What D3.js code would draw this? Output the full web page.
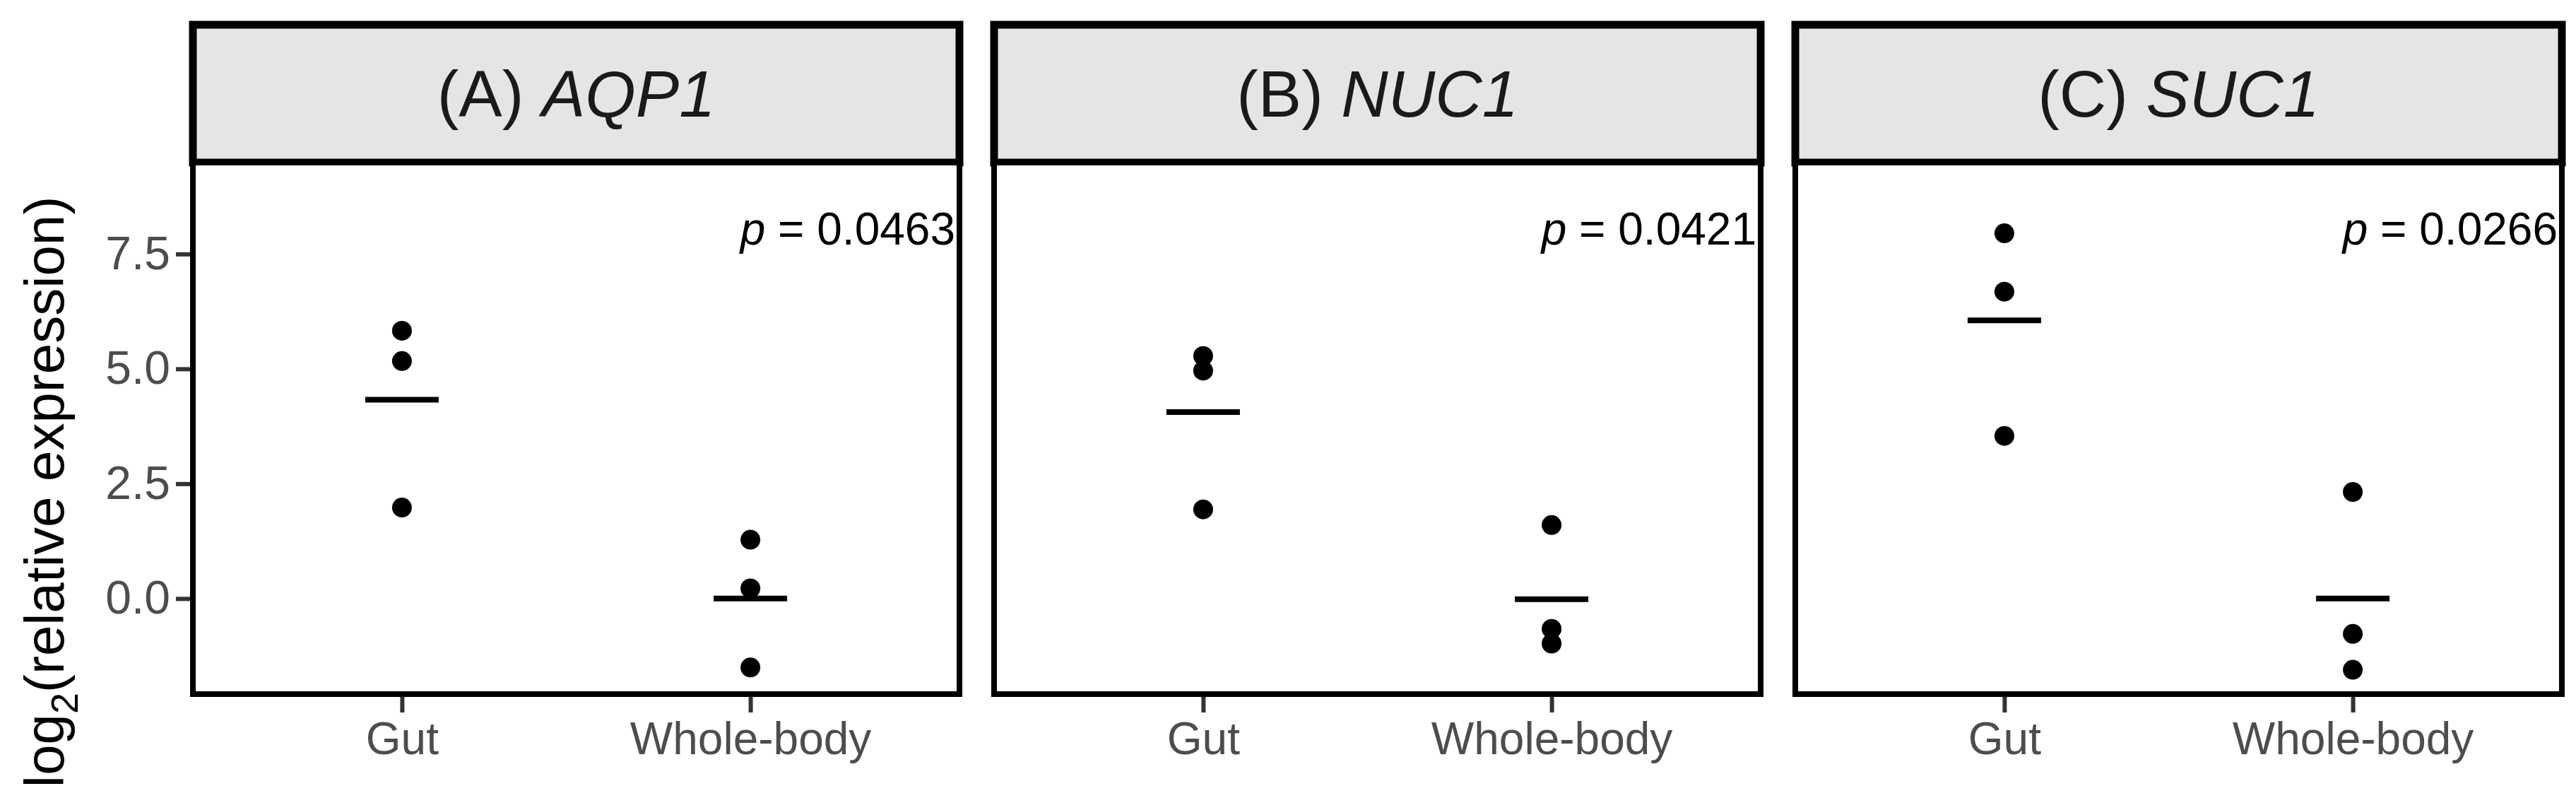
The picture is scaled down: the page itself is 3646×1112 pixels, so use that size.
<!DOCTYPE html>
<html>
<head>
<meta charset="utf-8">
<script src="https://cdn.jsdelivr.net/npm/d3@7"></script>
<style>
  body { margin: 0; background: #fff; }
  text { font-family: Arial, "Liberation Sans", sans-serif; }
</style>
</head>
<body>
<svg id="chart" width="3646" height="1112"></svg>
<script>
var panels = ['(A) ', '(B) ', '(C) ']
var genes = ['AQP1', 'NUC1', 'SUC1']
var pvalues = ['0.0463', '0.0421', '0.0266']
var groups = ['Gut', 'Whole-body']
var gutValues = [[5.83, 5.17, 1.98], [5.28, 4.96, 1.94], [7.95, 6.68, 3.54]]
var wholeValues = [[1.28, 0.22, -1.5], [1.6, -0.66, -0.98], [2.32, -0.77, -1.55]]
var yTicks = [0, 2.5, 5, 7.5]

var svg = d3.select('#chart')

var panelLeft = 273, panelW = 1085, gap = 49
var boxTop = 35, stripBottom = 230, plotBottom = 982

var y = d3.scaleLinear().domain([-2.08, 9.49]).range([plotBottom, stripBottom])

// y axis title
svg.append('text')
  .attr('transform', 'translate(90,' + ((stripBottom + plotBottom) / 2 + 90) + ') rotate(-90)')
  .attr('text-anchor', 'middle')
  .style('font-size', '78px')
  .attr('fill', '#000')
  .call(t => {
    t.append('tspan').text('log')
    t.append('tspan').text('2').style('font-size', '54px').attr('dy', 20)
    t.append('tspan').text('(relative expression)').attr('dy', -20)
  })

// y axis (only once, on the left)
var yAxis = svg.append('g')
  .attr('transform', 'translate(' + (panelLeft - 4) + ',0)')
  .call(d3.axisLeft(y).tickValues(yTicks).tickFormat(d3.format('.1f')).tickSize(20).tickPadding(8))
yAxis.select('.domain').remove()
yAxis.selectAll('line').attr('stroke', '#333').attr('stroke-width', 6)
yAxis.selectAll('text').attr('fill', '#4d4d4d').style('font-size', '66px').style('font-family', 'Arial, "Liberation Sans", sans-serif')

for (let k = 0; k < genes.length; k++) {
  var left = panelLeft + k * (panelW + gap)
  var g = svg.append('g').attr('transform', 'translate(' + left + ',0)')

  var x = d3.scalePoint().domain(groups).range([0, panelW]).padding(0.6)

  // strip
  g.append('rect')
    .attr('x', 0).attr('y', boxTop)
    .attr('width', panelW).attr('height', stripBottom - boxTop)
    .attr('fill', '#e5e5e5').attr('stroke', '#000').attr('stroke-width', 11)
  g.append('text')
    .attr('x', panelW / 2).attr('y', (boxTop + stripBottom) / 2 + 32)
    .attr('text-anchor', 'middle')
    .style('font-size', '92px')
    .attr('fill', '#1a1a1a')
    .call(t => {
      t.append('tspan').text(panels[k])
      t.append('tspan').text(genes[k]).style('font-style', 'italic')
    })

  // plot box
  g.append('rect')
    .attr('x', 0).attr('y', stripBottom)
    .attr('width', panelW).attr('height', plotBottom - stripBottom)
    .attr('fill', '#fff').attr('stroke', '#000').attr('stroke-width', 8)

  // x axis
  var xAxis = g.append('g')
    .attr('transform', 'translate(0,' + (plotBottom + 4) + ')')
    .call(d3.axisBottom(x).tickSize(22).tickPadding(14))
  xAxis.select('.domain').remove()
  xAxis.selectAll('line').attr('stroke', '#333').attr('stroke-width', 6)
  xAxis.selectAll('text').attr('fill', '#4d4d4d').style('font-size', '64px').style('font-family', 'Arial, "Liberation Sans", sans-serif')

  var series = [gutValues[k], wholeValues[k]]
  series.forEach(function(vals, i) {
    var cx = x(groups[i])
    g.selectAll(null).data(vals).enter().append('circle')
      .attr('cx', cx).attr('cy', d => y(d)).attr('r', 14).attr('fill', '#000')
    var m = d3.mean(vals)
    g.append('line')
      .attr('x1', cx - 52).attr('x2', cx + 52)
      .attr('y1', y(m)).attr('y2', y(m))
      .attr('stroke', '#000').attr('stroke-width', 8)
  })

  // p value
  g.append('text')
    .attr('x', panelW - 6).attr('y', y(7.7))
    .attr('text-anchor', 'end')
    .style('font-size', '64px')
    .attr('fill', '#000')
    .call(t => {
      t.append('tspan').text('p').style('font-style', 'italic')
      t.append('tspan').text(' = ' + pvalues[k])
    })
}
</script>
</body>
</html>
